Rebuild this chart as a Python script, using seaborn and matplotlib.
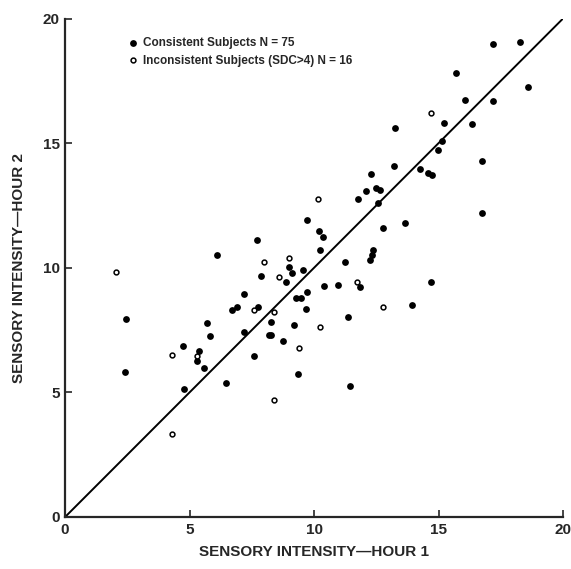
import numpy as np
import matplotlib
matplotlib.use("Agg")
import matplotlib.pyplot as plt
import seaborn as sns
import pandas as pd

# consistent subjects (filled dots)
cons_h1 = [2.44, 2.42, 6.1, 7.72, 7.18, 6.69, 6.9, 7.76, 5.69, 5.81, 4.75, 5.38, 5.29, 5.58, 4.78,
           6.48, 7.18, 7.58, 7.88, 9.73, 10.19, 10.37, 12.78, 13.65, 8.98, 9.1, 9.57, 8.89, 10.23,
           11.26, 12.37, 12.33, 12.26, 9.73, 10.39, 10.98, 11.86, 14.7, 9.28, 9.47, 9.68, 8.27,
           9.18, 11.35, 13.95, 8.18, 8.27, 8.74, 9.37, 11.46, 18.58, 16.08, 17.19, 13.25, 15.22,
           16.36, 15.15, 14.97, 13.21, 16.76, 14.26, 14.59, 14.72, 12.66, 16.76, 17.17, 18.29,
           15.71, 11.78, 12.09, 12.28, 12.48, 12.56]
cons_h2 = [7.95, 5.81, 10.5, 11.1, 8.96, 8.29, 8.42, 8.42, 7.78, 7.28, 6.86, 6.67, 6.24, 5.96, 5.15,
           5.37, 7.44, 6.47, 9.65, 11.9, 11.49, 11.24, 11.6, 11.8, 10.03, 9.79, 9.92, 9.44, 10.73,
           10.25, 10.73, 10.5, 10.31, 9.04, 9.28, 9.32, 9.22, 9.43, 8.77, 8.78, 8.33, 7.82,
           7.72, 8.02, 8.5, 7.31, 7.31, 7.08, 5.72, 5.27, 17.25, 16.75, 16.71, 15.62, 15.8,
           15.76, 15.1, 14.74, 14.08, 14.3, 13.98, 13.8, 13.73, 13.12, 12.2, 18.97, 19.06,
           17.82, 12.75, 13.1, 13.76, 13.21, 12.61]

# inconsistent subjects (open circles)
inc_h1 = [2.04, 4.31, 4.28, 8.38, 7.59, 8.0, 9.0, 8.6, 11.73, 8.38, 10.23, 12.78, 9.4, 14.7, 10.17, 5.3]
inc_h2 = [9.84, 6.48, 3.35, 4.7, 8.31, 10.23, 10.41, 9.64, 9.43, 8.24, 7.62, 8.42, 6.8, 16.2, 12.74, 6.44]

diag = [0, 20]
ticks = [0, 5, 10, 15, 20]

sns.set_style("ticks")
plt.rcParams['font.family'] = ['Liberation Sans', 'DejaVu Sans']
plt.rcParams['font.weight'] = 'bold'

df_c = pd.DataFrame({"h1": cons_h1, "h2": cons_h2})
df_i = pd.DataFrame({"h1": inc_h1, "h2": inc_h2})

fig = plt.figure(figsize=(5.71, 5.69), dpi=100)
ax = fig.add_axes([0.114, 0.0914, 0.872, 0.876])

sns.lineplot(x=diag, y=diag, color="black", linewidth=1.4, ax=ax)
sns.scatterplot(data=df_c, x="h1", y="h2", color="black", s=24, edgecolor="black",
                linewidth=0, ax=ax, label="Consistent Subjects N = 75", zorder=3)
sns.scatterplot(data=df_i, x="h1", y="h2", facecolor="white", s=12, edgecolor="black",
                linewidth=1.1, ax=ax, label="Inconsistent Subjects (SDC>4) N = 16", zorder=3)

ax.set_xlim(0, 20)
ax.set_ylim(0, 20)
ax.set_xticks(ticks)
ax.set_yticks(ticks)
ax.tick_params(direction="in", length=5, width=1.2, labelsize=11, pad=4)
for lab in ax.get_xticklabels() + ax.get_yticklabels():
    lab.set_fontweight("bold")
sns.despine(ax=ax)
for sp in ["left", "bottom"]:
    ax.spines[sp].set_linewidth(1.6)

ax.set_xlabel("SENSORY INTENSITY\u2014HOUR 1", fontsize=11, fontweight="bold", labelpad=6)
ax.set_ylabel("SENSORY INTENSITY\u2014HOUR 2", fontsize=11, fontweight="bold", labelpad=12)

leg = ax.legend(loc="upper left", bbox_to_anchor=(0.115, 0.972), frameon=False,
                fontsize=8.5, handletextpad=0.35, borderaxespad=0, labelspacing=0.45,
                handlelength=1.0)
for t in leg.get_texts():
    t.set_fontweight("bold")

fig.savefig("out.png", dpi=100)
